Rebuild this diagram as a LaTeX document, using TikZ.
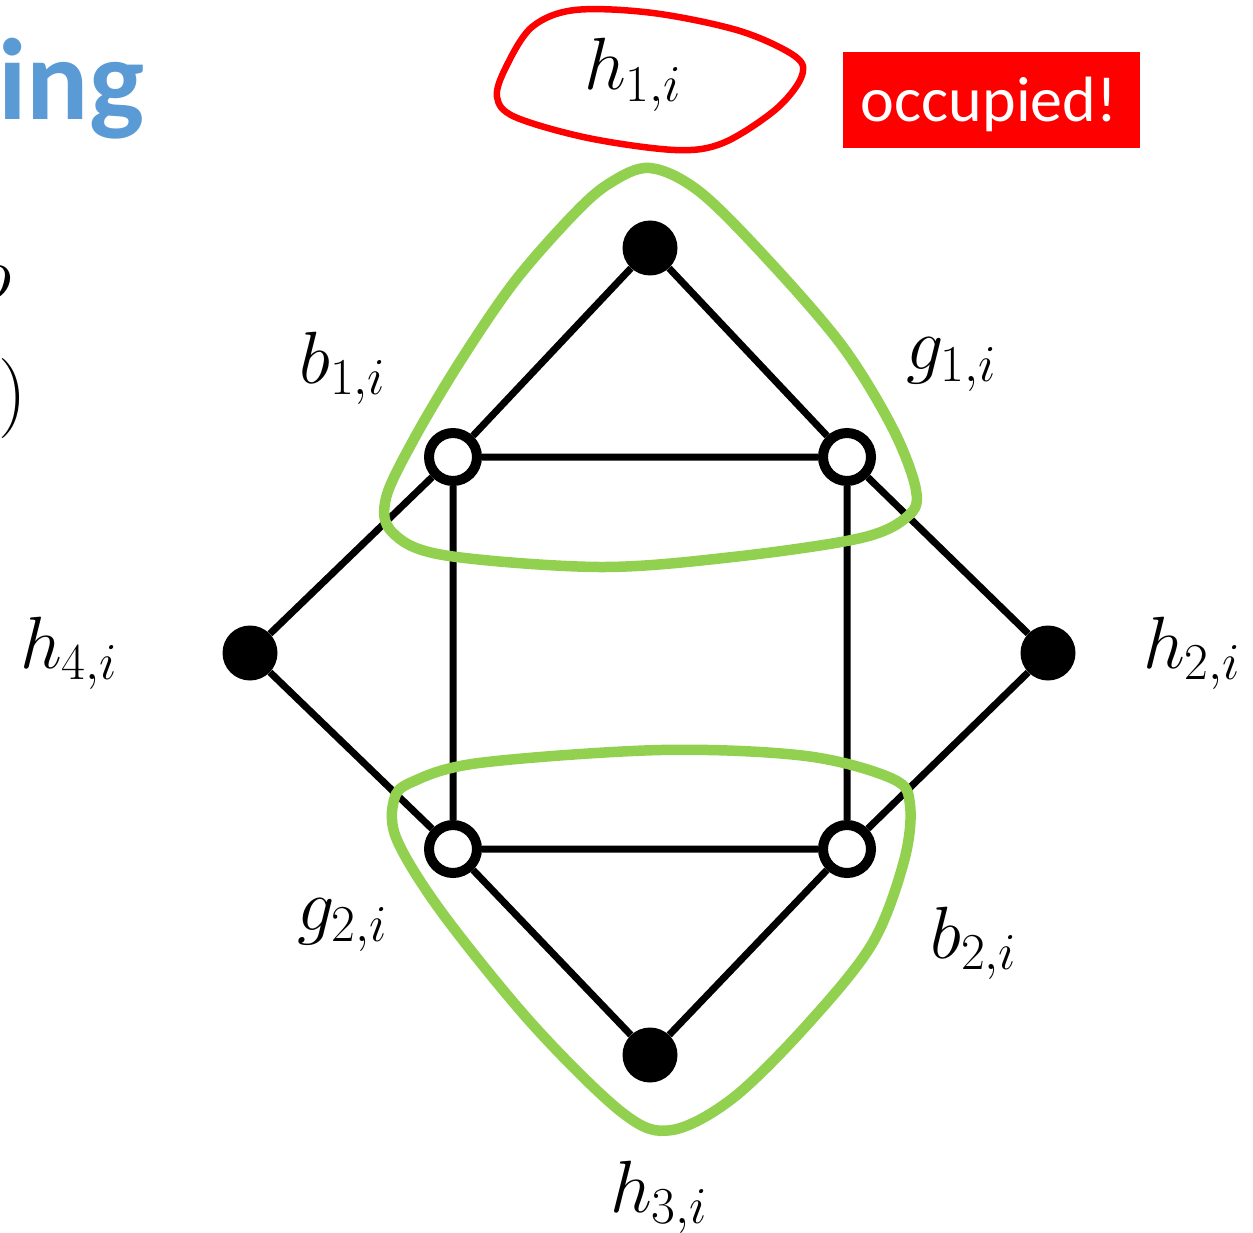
\RequirePackage{fix-cm}
\documentclass[tikz,border=0pt]{standalone}
\usepackage{fontspec}
\newfontfamily\calfont{Carlito}
\definecolor{lgreen}{HTML}{92D050}
\definecolor{ingblue}{HTML}{5B9BD5}
\definecolor{occred}{HTML}{FF0000}
\begin{document}
\begin{tikzpicture}[x=1pt,y=-1pt,
  blk/.style={circle, fill=black, minimum size=55pt, inner sep=0pt},
  wht/.style={circle, draw=black, fill=white, line width=10pt, minimum size=48pt, inner sep=0pt},
  edgeln/.style={line width=7pt},
  grn/.style={draw=lgreen, line width=10.5pt},
  redln/.style={draw=occred, line width=6.5pt},
  lbl/.style={anchor=base west, inner sep=0pt, font=\fontsize{74}{80}\selectfont}]
\useasboundingbox (0,0) rectangle (1253,1233);
\clip (0,0) rectangle (1253,1233);

% partial slide text at left edge
\node[anchor=base west, inner sep=0pt, text=ingblue, font=\calfont\bfseries\fontsize{116}{120}\selectfont] (ing) at (-2,120) {ing};
\node[anchor=base west, inner sep=0pt, font=\fontsize{77}{80}\selectfont] (oo) at (-25,300) {$o$};
\node[anchor=base west, inner sep=0pt, font=\fontsize{80}{84}\selectfont] (par) at (-2,418) {$)$};

% graph nodes
\node[blk] (t) at (650,248) {};
\node[wht] (b1) at (453,457) {};
\node[wht] (g1) at (847,457) {};
\node[blk] (h4) at (250,653) {};
\node[blk] (h2) at (1048,653) {};
\node[wht] (g2) at (453,849) {};
\node[wht] (b2) at (847,849) {};
\node[blk] (bt) at (650,1055) {};

\draw[edgeln] (t)--(b1) (t)--(g1) (b1)--(g1) (b1)--(g2) (g1)--(b2)
  (b1)--(h4) (g1)--(h2) (h4)--(g2) (h2)--(b2) (g2)--(b2) (g2)--(bt) (b2)--(bt);

% green hulls
\draw[grn] plot[smooth cycle, tension=0.55] coordinates {
  (650,168) (700,192) (770,262) (843,347) (893,429) (916,490) (908,516)
  (861,538) (733,557) (599,567) (443,555) (392,532) (386,498) (414,439)
  (461,360) (515,281) (574,214) (610,183)};
\draw[grn] plot[smooth cycle, tension=0.55] coordinates {
  (412,782) (479,763) (661,750) (806,756) (893,779) (910,805) (904,861)
  (872,944) (806,1026) (733,1098) (672,1130) (624,1114) (534,1026)
  (443,914) (397,840) (394,800)};

% red blob around h1
\draw[redln] plot[smooth cycle, tension=0.55] coordinates {
  (497,97) (506,67) (532,27) (575,10) (653,13) (740,31) (796,57) (801,78)
  (775,110) (723,143) (675,150) (588,138) (515,117)};

% labels
\node[lbl] (lh1) at (584,90) {$h_{1,i}$};
\node[lbl] (lb1) at (299,383) {$b_{1,i}$};
\node[lbl] (lg1) at (906,370) {$g_{1,i}$};
\node[lbl] (lh4) at (20,668) {$h_{4,i}$};
\node[lbl] (lh2) at (1143,668) {$h_{2,i}$};
\node[lbl] (lg2) at (297,930) {$g_{2,i}$};
\node[lbl] (lb2) at (930,958) {$b_{2,i}$};
\node[lbl] (lh3) at (610,1212) {$h_{3,i}$};

% occupied box
\node[fill=occred, minimum width=297pt, minimum height=96pt, inner sep=0pt, anchor=north west] (occbox) at (843,52) {};
\node[anchor=base, inner sep=0pt, text=white, font=\calfont\fontsize{64}{70}\selectfont] (occ) at (989,122) {occupied!};
\end{tikzpicture}
\end{document}
